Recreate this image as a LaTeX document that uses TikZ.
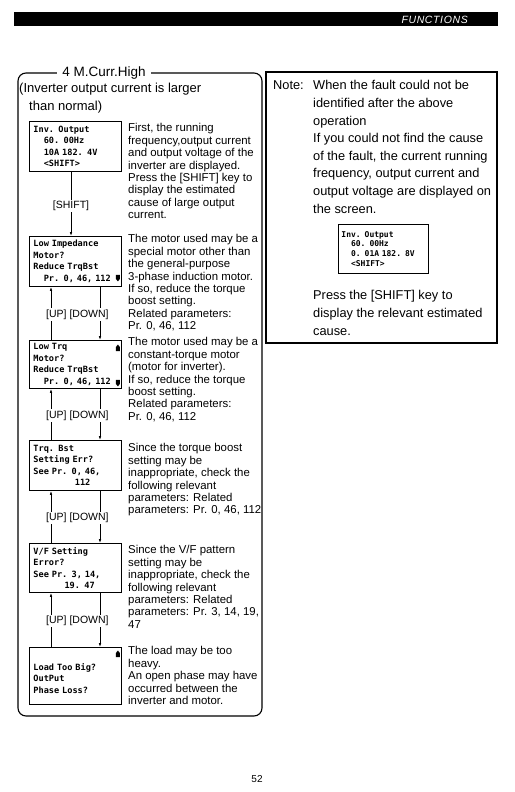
\documentclass[tikz,border=0pt]{standalone}
\usepackage{fontspec}
\setmainfont{Liberation Sans}
\newfontfamily\lcdfont[WordSpace=0.6]{DejaVu Sans Mono}
\newfontfamily\hdrfont[LetterSpace=6]{Liberation Sans}
\usetikzlibrary{positioning,arrows.meta}

\tikzset{
  lcd/.style={draw, line width=0.9pt, anchor=north west, inner xsep=4pt, inner ysep=2pt,
    text width=84pt, minimum height=50pt, align=left,
    font=\lcdfont\bfseries\fontsize{8.6}{11.5}\selectfont},
  txt/.style={anchor=north west, inner sep=0pt, align=left, font=\fontsize{11.4}{12.4}\selectfont},
  notetxt/.style={anchor=north west, inner sep=0pt, align=left, font=\fontsize{12.8}{17.6}\selectfont},
  key/.style={fill=white, inner sep=1.5pt, font=\fontsize{10.5}{12}\selectfont},
  flow/.style={line width=0.7pt, -{Latex[length=4pt,width=2.6pt]}},
}
% little scroll marks of the display
\newcommand\lcdupmark[1]{\fill #1 +(-2,3) -- +(2,3) -- +(2,-1) -- +(0,-3.5) -- +(-2,-1) -- cycle;}
\newcommand\lcddownmark[1]{\fill #1 +(-2,-3) -- +(2,-3) -- +(2,1) -- +(0,3.5) -- +(-2,1) -- cycle;}

\begin{document}
\begin{tikzpicture}[x=1pt,y=-1pt]
\useasboundingbox (0,0) rectangle (514,792);

% header bar
\fill (14,12) rectangle (498,26);
\node[anchor=east, text=white, inner sep=0pt, font=\hdrfont\itshape\fontsize{10.5}{11}\selectfont] (hdr) at (468,19.5) {FUNCTIONS};

% frame
\draw[line width=1.1pt, rounded corners=8pt] (18,73) rectangle (262,716);
\node[fill=white, inner xsep=5pt, inner ysep=1pt, font=\fontsize{13.5}{14}\selectfont] (ttl) at (104,73) {4 M.Curr.High};
\node[anchor=west, inner sep=0pt, font=\fontsize{13}{15}\selectfont] (sub1) at (19,89) {(Inverter output current is larger};
\node[anchor=west, inner sep=0pt, font=\fontsize{13}{15}\selectfont] (sub2) at (29,107) {than normal)};

% display boxes
\node[lcd] (b1) at (29,121) {Inv. Output\\\hphantom{00}60. 00Hz\\\hphantom{00}10A 182. 4V\\\hphantom{00}<SHIFT>};
\node[lcd] (b2) at (29,236) {Low Impedance\\Motor?\\Reduce TrqBst\\\hphantom{00}Pr. 0, 46, 112};
\node[lcd, minimum height=48pt] (b3) at (29,340) {Low Trq\\Motor?\\Reduce TrqBst\\\hphantom{00}Pr. 0, 46, 112};
\node[lcd] (b4) at (29,440) {Trq. Bst\\Setting Err?\\See Pr. 0, 46,\\\hphantom{00000000}112};
\node[lcd, minimum height=49pt] (b5) at (29,543) {V/F Setting\\Error?\\See Pr. 3, 14,\\\hphantom{000000}19. 47};
\node[lcd, minimum height=57pt] (b6) at (29,647) {\mbox{}\\Load Too Big?\\OutPut\\Phase Loss?};

\lcddownmark{([shift={(-4,-9)}]b2.south east)}
\lcdupmark{([shift={(-4,8)}]b3.north east)}
\lcddownmark{([shift={(-4,-6)}]b3.south east)}
\lcdupmark{([shift={(-4,7)}]b6.north east)}

% key connectors
\draw[flow] ([xshift=42pt]b1.south west) -- ([xshift=42pt]b2.north west)
  node[key, midway, yshift=-2pt] (kshift) {[SHIFT]};
\foreach \a/\b in {b2/b3,b3/b4,b4/b5,b5/b6}{
  \draw[flow] ([xshift=22pt]\b.north west) -- ([xshift=22pt]\a.south west);
  \draw[flow] ([xshift=71pt]\a.south west) -- ([xshift=71pt]\b.north west);
  \path (\a.south) -- (\b.north) node[key, midway, xshift=2pt, yshift=-1pt] (k\a) {[UP] [DOWN]};
}

% explanations
\node[txt] (p1) at (128,123.5) {First, the running\\frequency,output current\\and output voltage of the\\inverter are displayed.\\Press the [SHIFT] key to\\display the estimated\\cause of large output\\current.};
\node[txt] (p2) at (128,234.5) {The motor used may be a\\special motor other than\\the general-purpose\\3-phase induction motor.\\If so, reduce the torque\\boost setting.\\Related parameters:\\Pr. 0, 46, 112};
\node[txt] (p3) at (128,337.5) {The motor used may be a\\constant-torque motor\\(motor for inverter).\\If so, reduce the torque\\boost setting.\\Related parameters:\\Pr. 0, 46, 112};
\node[txt] (p4) at (128,443.5) {Since the torque boost\\setting may be\\inappropriate, check the\\following relevant\\parameters: Related\\parameters: Pr. 0, 46, 112};
\node[txt] (p5) at (128,545.5) {Since the V/F pattern\\setting may be\\inappropriate, check the\\following relevant\\parameters: Related\\parameters: Pr. 3, 14, 19,\\47};
\node[txt] (p6) at (128,646.5) {The load may be too\\heavy.\\An open phase may have\\occurred between the\\inverter and motor.};

% note
\draw[line width=1.3pt] (266,72) rectangle (497,343);
\node[notetxt] (notelbl) at (273,80.5) {Note:};
\node[notetxt] (note1) at (313,80.5) {When the fault could not be\\identified after the above\\operation\\If you could not find the cause\\of the fault, the current running\\frequency, output current and\\output voltage are displayed on\\the screen.};
\node[lcd, inner xsep=3pt, minimum height=49pt, font=\lcdfont\bfseries\fontsize{8}{9.8}\selectfont] (b7) at (338,224) {Inv. Output\\\hphantom{00}60. 00Hz\\\hphantom{00}0. 01A 182. 8V\\\hphantom{00}<SHIFT>};
\node[notetxt] (note2) at (313,290.5) {Press the [SHIFT] key to\\display the relevant estimated\\cause.};

% page number
\node[font=\fontsize{10}{12}\selectfont] (pg) at (257,779) {52};
\end{tikzpicture}
\end{document}
